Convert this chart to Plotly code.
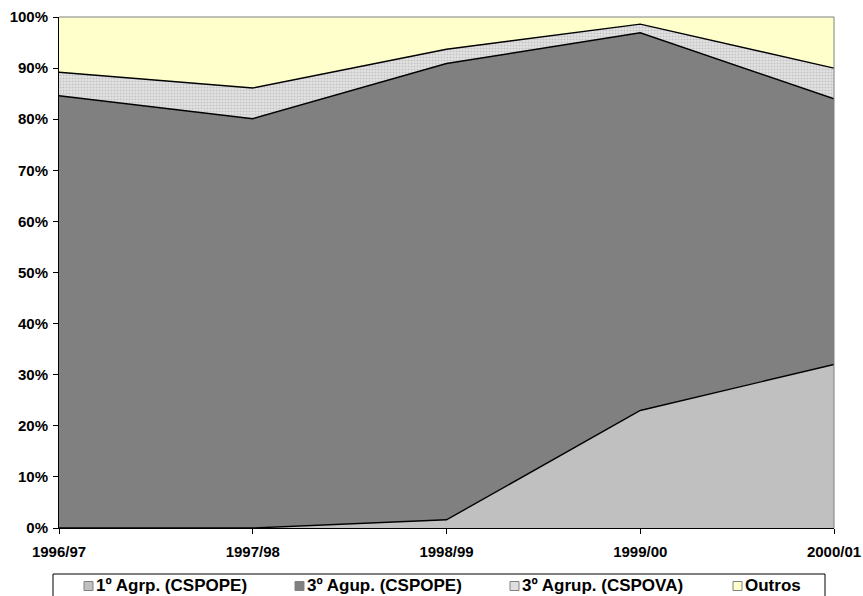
import plotly.graph_objects as go

# Academic years on the horizontal axis
years = ["1996/97", "1997/98", "1998/99", "1999/00", "2000/01"]

# Share of each group (percent of total), stacked to 100%
agrp1_cspope = [0.0, 0.0, 1.6, 23.0, 32.0]
agrp3_cspope = [84.6, 80.1, 89.3, 73.9, 52.0]
agrp3_cspova = [4.6, 6.0, 2.8, 1.7, 6.0]
outros = [10.8, 13.9, 6.3, 1.4, 10.0]

y_ticks = list(range(0, 101, 10))
y_tick_labels = [f"{v}%" for v in y_ticks]

series_names = ["1º Agrp. (CSPOPE)", "3º Agup. (CSPOPE)", "3º Agrup. (CSPOVA)", "Outros"]
series_values = [agrp1_cspope, agrp3_cspope, agrp3_cspova, outros]
series_colors = ["#C0C0C0", "#808080", "#DEDEDE", "#FFFFCC"]

W, H = 863, 596
M_L, M_R, M_T, M_B = 59, 29, 17, 68

x_idx = list(range(len(years)))
fig = go.Figure()

for i, (name, vals, color) in enumerate(zip(series_names, series_values, series_colors)):
    kw = {}
    if i == 2:
        kw["fillpattern"] = dict(shape=".", bgcolor="#E4E4E4", fgcolor="#C4C4C4",
                                 size=3, solidity=0.4, fillmode="replace")
    else:
        kw["fillcolor"] = color
    last = i == len(series_names) - 1
    fig.add_trace(go.Scatter(
        x=x_idx, y=vals, name=name, mode="lines", stackgroup="one",
        line=dict(color="#000000", width=0 if last else 1.4),
        showlegend=False, hoverinfo="skip", **kw,
    ))

font_family = "Liberation Sans, Arial, sans-serif"
tick_font = dict(family=font_family, size=15, color="#000000", weight="bold")
legend_font = dict(family=font_family, size=17, color="#000000", weight="bold")

plot_w = W - M_L - M_R
plot_h = H - M_T - M_B


def fx(px):
    """Pixel column -> paper x."""
    return (px - M_L) / plot_w


def fy(py):
    """Pixel row -> paper y."""
    return ((H - M_B) - py) / plot_h


# Legend drawn below the plot: frame, square swatches and labels
legend_swatch_x = [84, 295, 510, 733]
legend_text_y = 586
shapes = [
    dict(type="rect", xref="paper", yref="paper",
         x0=fx(53), x1=fx(825), y0=fy(600), y1=fy(574),
         line=dict(color="#000000", width=1), fillcolor="#FFFFFF", layer="above"),
    # gray frame on top and right of the plot area
    dict(type="line", xref="paper", yref="paper", x0=0, x1=1, y0=1, y1=1,
         line=dict(color="#808080", width=1)),
    dict(type="line", xref="paper", yref="paper", x0=1, x1=1, y0=0, y1=1,
         line=dict(color="#808080", width=1)),
]
annotations = []
for sx, name, color in zip(legend_swatch_x, series_names, series_colors):
    shapes.append(dict(type="rect", xref="paper", yref="paper",
                       x0=fx(sx), x1=fx(sx + 9), y0=fy(590.5), y1=fy(581.5),
                       line=dict(color="#808080", width=1), fillcolor=color, layer="above"))
    annotations.append(dict(
        text=name, xref="paper", yref="paper",
        x=fx(sx + 10), y=fy(legend_text_y),
        xanchor="left", yanchor="middle", showarrow=False,
        font=legend_font,
    ))

fig.update_layout(
    width=W, height=H,
    margin=dict(l=M_L, r=M_R, t=M_T, b=M_B, autoexpand=False),
    paper_bgcolor="#FFFFFF", plot_bgcolor="#FFFFFF",
    font=dict(family=font_family, size=12, color="#000000"),
    showlegend=False,
    xaxis=dict(
        range=[0, 4], tickmode="array", tickvals=x_idx, ticktext=years,
        showgrid=False, zeroline=False,
        showline=True, linecolor="#000000", linewidth=1,
        ticks="outside", ticklen=5, tickcolor="#000000",
        ticklabelstandoff=5,
        tickfont=tick_font,
    ),
    yaxis=dict(
        range=[0, 100], tickmode="array", tickvals=y_ticks, ticktext=y_tick_labels,
        showgrid=False, zeroline=False,
        showline=True, linecolor="#000000", linewidth=1,
        ticks="outside", ticklen=5, tickcolor="#000000",
        ticklabelstandoff=2,
        tickfont=tick_font,
    ),
    shapes=shapes,
    annotations=annotations,
)

fig.write_html("out.html")
